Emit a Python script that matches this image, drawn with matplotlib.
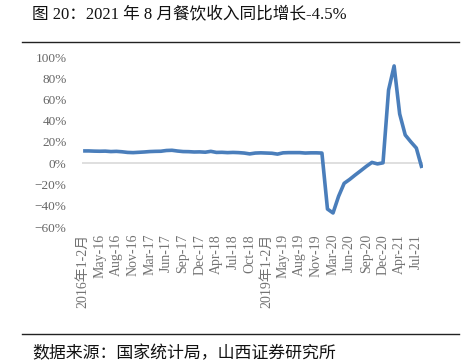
import matplotlib
matplotlib.use('Agg')
import matplotlib.pyplot as plt
import numpy as np

# category labels: Jan-Feb combined, then Mar..Dec for each year
months = ['Mar', 'Apr', 'May', 'Jun', 'Jul', 'Aug', 'Sep', 'Oct', 'Nov', 'Dec']
years = [2016, 2017, 2018, 2019, 2020, 2021]
categories = []
for yr in years:
    categories.append(f'{yr}年1-2月')
    for m in months:
        if yr == 2021 and m == 'Sep':
            break
        categories.append(f'{m}-{str(yr)[2:]}')

# 餐饮收入当月同比（%）
growth_2016 = [11.6, 11.6, 11.4, 11.3, 11.4, 11.0, 11.2, 10.8, 10.2, 10.0, 10.3]
growth_2017 = [10.6, 11.0, 11.2, 11.3, 12.0, 12.2, 11.5, 11.0, 10.9, 10.6, 10.7]
growth_2018 = [10.4, 11.2, 10.2, 10.3, 10.0, 10.2, 10.0, 9.6, 8.8, 9.6, 9.8]
growth_2019 = [9.6, 9.4, 8.6, 9.8, 10.0, 10.0, 10.0, 9.6, 9.8, 9.8, 9.6]
growth_2020 = [-43.1, -46.8, -31.1, -18.9, -15.2, -11.0, -7.0, -2.9, 0.8, -0.6, 0.4]
growth_2021 = [68.9, 91.6, 46.4, 26.6, 20.2, 14.3, -4.5]
growth = np.array(growth_2016 + growth_2017 + growth_2018 + growth_2019
                  + growth_2020 + growth_2021) / 100.0

yticks = [-0.6, -0.4, -0.2, 0.0, 0.2, 0.4, 0.6, 0.8, 1.0]
ytick_labels = ['−60%', '−40%', '−20%', '0%', '20%', '40%', '60%', '80%', '100%']

title = '图 20：2021 年 8 月餐饮收入同比增长-4.5%'
source = '数据来源：国家统计局，山西证券研究所'

serif = ['Liberation Serif', 'Noto Sans CJK SC']
cjk = ['Noto Sans CJK SC', 'Liberation Serif']

fig = plt.figure(figsize=(4.72, 3.61), dpi=100)
ax = fig.add_axes([82 / 472, 1 - 227 / 361, (423 - 82) / 472, (227 - 57) / 361])

x = np.arange(len(growth))
ax.plot(x, growth, color='#4a7ebb', linewidth=2.6, solid_capstyle='butt')
ax.axhline(0, color='#d9d9d9', linewidth=1.2, zorder=0)

ax.set_xlim(-0.2, len(growth) - 0.8)
ax.set_ylim(-0.6, 1.0)
ax.set_yticks(yticks)
ax.set_yticklabels(ytick_labels, family=serif, fontsize=9.5, color='#666666')
tick_idx = x[::3]
ax.set_xticks(tick_idx)
ax.set_xticklabels([categories[i] for i in tick_idx], rotation=90,
                   family=serif, fontsize=10, color='#737373', va='top', ha='center')
ax.tick_params(axis='both', length=0)
ax.tick_params(axis='y', pad=11)
ax.tick_params(axis='x', pad=5)
for s in ax.spines.values():
    s.set_visible(False)

fig.text(32 / 472, 1 - 15 / 361, title, family=serif, fontsize=12,
         va='center', ha='left', color='#111111')
fig.text(32 / 472, 1 - 353 / 361, source, family=cjk, fontsize=12.2,
         va='center', ha='left', color='#111111')
fig.add_artist(plt.Line2D([22 / 472, 459 / 472], [1 - 42 / 361, 1 - 42 / 361],
                          color='#222222', linewidth=1.0))
fig.add_artist(plt.Line2D([22 / 472, 459 / 472], [1 - 334 / 361, 1 - 334 / 361],
                          color='#222222', linewidth=1.0))

fig.savefig('out.png', dpi=100)
